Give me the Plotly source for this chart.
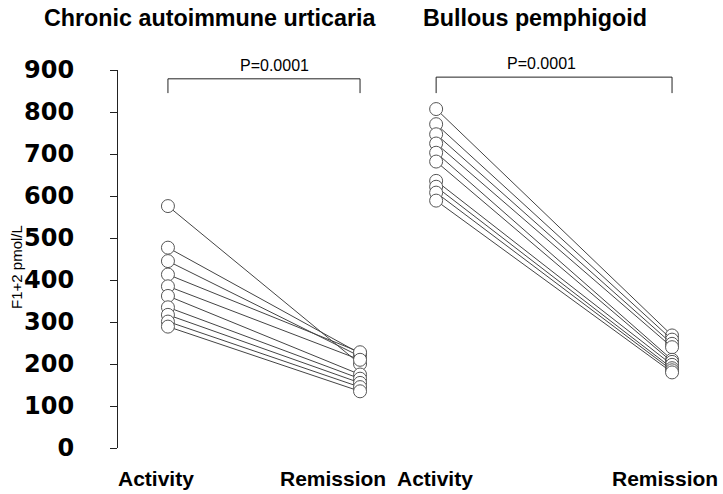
import plotly.graph_objects as go

# ---- data ----
panel_titles = ["Chronic autoimmune urticaria", "Bullous pemphigoid"]
categories = ["Activity", "Remission"]
p_values = ["P=0.0001", "P=0.0001"]
y_ticks = [0, 100, 200, 300, 400, 500, 600, 700, 800, 900]
y_title = "F1+2 pmol/L"

cau_activity = [576, 477, 445, 413, 385, 362, 335, 317, 301, 289]
cau_remission = [200, 225, 218, 228, 210, 175, 165, 155, 145, 135]

bp_activity = [807, 771, 747, 725, 703, 682, 636, 622, 608, 589]
bp_remission = [268, 258, 248, 240, 210, 205, 198, 190, 185, 180]

bracket_top = [879, 883]
bracket_bottom = [845, 845]

fig = go.Figure()

panels = [(cau_activity, cau_remission, "x", "y"),
          (bp_activity, bp_remission, "x2", "y2")]
for act, rem, xa, ya in panels:
    for a, r in zip(act, rem):
        fig.add_trace(go.Scatter(
            x=[0, 1], y=[a, r], mode="lines+markers",
            line=dict(color="#444444", width=1),
            marker=dict(size=13, color="white", line=dict(color="#555555", width=1)),
            xaxis=xa, yaxis=ya, showlegend=False, hoverinfo="y"))

font_main = "Liberation Sans, Arial, sans-serif"

fig.update_layout(
    width=723, height=494,
    margin=dict(l=118, r=0, t=70, b=46),
    plot_bgcolor="white", paper_bgcolor="white",
    xaxis=dict(domain=[0, 0.4496], range=[-0.26, 1.156], visible=False),
    xaxis2=dict(domain=[0.458, 1], range=[-0.174, 1.216], visible=False),
    yaxis=dict(range=[0, 900], tickvals=y_ticks, showline=True, linecolor="#222222",
               linewidth=1, ticks="outside", ticklen=7, tickcolor="#222222",
               showgrid=False, zeroline=False, ticklabelstandoff=31,
               tickfont=dict(family="DejaVu Sans", size=24, color="black", weight="bold")),
    yaxis2=dict(range=[0, 900], matches="y", visible=False, anchor="x2"),
)

# brackets and p-values
for i, (xr, yr) in enumerate([("x", "y"), ("x2", "y2")]):
    fig.add_shape(type="path",
                  path=f"M 0 {bracket_bottom[i]} L 0 {bracket_top[i]} L 1 {bracket_top[i]} L 1 {bracket_bottom[i]}",
                  xref=xr, yref=yr, line=dict(color="#222222", width=1))
    fig.add_annotation(x=0.5, y=bracket_top[i], xref=xr, yref=yr, text=p_values[i],
                       showarrow=False, yanchor="bottom", yshift=3,
                       xshift=11 if i == 0 else -13,
                       font=dict(family=font_main, size=16, color="black"))

# category labels
shifts = [(-12, -27), (-1, -7)]
for i, xr in enumerate(["x", "x2"]):
    for j, cat in enumerate(categories):
        fig.add_annotation(x=j, y=0, xref=xr, yref="y", text=cat, showarrow=False,
                           yanchor="middle", yshift=-30, xshift=shifts[i][j],
                           font=dict(family=font_main, size=21, color="black", weight="bold"))

# panel titles
title_x = [210, 535]
for t, px in zip(panel_titles, title_x):
    fig.add_annotation(x=(px - 118) / 605, y=(448 - 18) / 378, xref="paper", yref="paper",
                       text=t, showarrow=False, yanchor="middle", xanchor="center",
                       font=dict(family=font_main, size=23.3, color="black", weight="bold"))

# y axis title
fig.add_annotation(x=(17 - 118) / 605, y=431 / 900, xref="paper", yref="paper",
                   text=y_title, showarrow=False, textangle=-90,
                   xanchor="center", yanchor="middle",
                   font=dict(family=font_main, size=15, color="black"))

fig.write_html("out.html", config={"displayModeBar": False},
               post_script="document.body.style.margin='0px';")
